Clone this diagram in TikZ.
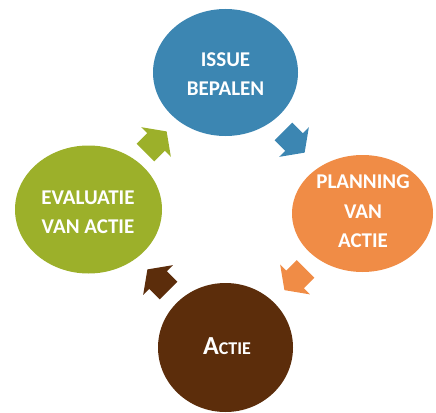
\documentclass[tikz,border=0pt]{standalone}
\usepackage{fontspec}
\setmainfont{Carlito}
\usetikzlibrary{shapes.geometric}
\definecolor{cblue}{RGB}{60,134,178}
\definecolor{corange}{RGB}{240,140,70}
\definecolor{cgreen}{RGB}{156,176,42}
\definecolor{cbrown}{RGB}{92,45,11}
\tikzset{
  blob/.style={ellipse, inner sep=0pt, draw=none},
  label/.style={text=white, align=center, inner sep=0pt,
    font=\fontsize{21}{29.5}\selectfont\bfseries},
  cyclearrow/.pic={\fill (-15,-12.5) -- (0,-12.5) -- (0,-21) -- (15,0) -- (0,21) -- (0,12.5) -- (-15,12.5) -- cycle;}
}
\begin{document}
\begin{tikzpicture}[x=1pt,y=-1pt]
\useasboundingbox (0,0) rectangle (436,412);
\coordinate (mid) at (225,211);
% circles
\node[blob, fill=cblue, minimum width=145pt, minimum height=127pt] (issue) at (225.5,72.5) {};
\node[blob, fill=corange, minimum width=141pt, minimum height=117pt] (plan) at (362.5,213.5) {};
\node[blob, fill=cbrown, minimum width=135pt, minimum height=129pt] (actie) at (225.5,347.5) {};
\node[blob, fill=cgreen, minimum width=147pt, minimum height=128pt] (eval) at (88.5,209.5) {};
% texts
\node[label] (tissue) at (225.5,74) {ISSUE\\BEPALEN};
\node[label] (tplan) at (363,211.5) {PLANNING\\VAN\\ACTIE};
\node[label] (teval) at (88,212.3) {EVALUATIE\\VAN ACTIE};
\node[label, font=\bfseries] (tactie) at (227,346.3) {{\fontsize{26}{30}\selectfont A}{\fontsize{18}{30}\selectfont CTIE}};
% arrows
\coordinate (a1) at ([shift={(69,-69)}]mid);
\coordinate (a2) at ([shift={(70,68.5)}]mid);
\coordinate (a3) at ([shift={(-67,69)}]mid);
\coordinate (a4) at ([shift={(-69,-69)}]mid);
\pic[fill=cblue, rotate=-45] at (a1) {cyclearrow};
\pic[fill=corange, rotate=-135] at (a2) {cyclearrow};
\pic[fill=cbrown, rotate=135] at (a3) {cyclearrow};
\pic[fill=cgreen, rotate=45] at (a4) {cyclearrow};
\end{tikzpicture}
\end{document}
